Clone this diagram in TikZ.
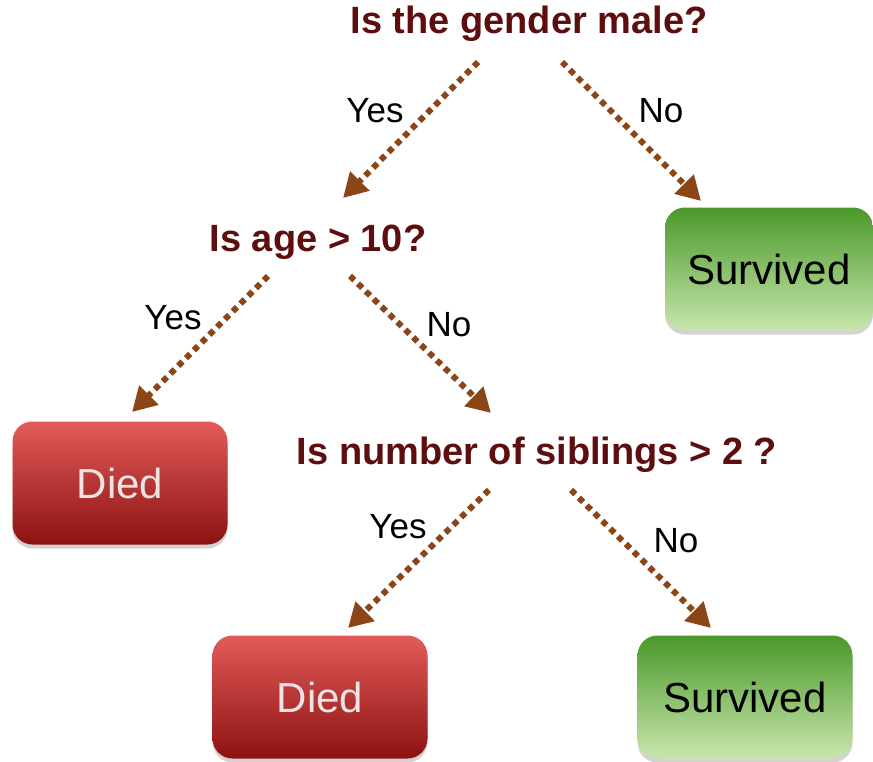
\documentclass[tikz,border=0pt]{standalone}
\usepackage{fontspec}
\setmainfont{Liberation Sans}
\usetikzlibrary{arrows.meta,shadows}
\definecolor{qtext}{RGB}{94,14,14}
\definecolor{arrowc}{RGB}{139,69,22}
\definecolor{redtop}{RGB}{226,91,89}
\definecolor{redbot}{RGB}{140,18,18}
\definecolor{greentop}{RGB}{74,152,42}
\definecolor{greenbot}{RGB}{201,230,173}
\definecolor{diedtext}{RGB}{236,228,228}
\tikzset{
  question/.style={font=\fontsize{38}{40}\selectfont\bfseries, text=qtext, inner sep=0pt},
  answer/.style={font=\fontsize{35}{37}\selectfont, text=black, inner sep=0pt},
  leafbox/.style={rounded corners=20pt, minimum width=215pt, minimum height=123pt,
    font=\fontsize{42}{44}\selectfont, drop shadow={shadow xshift=0pt, shadow yshift=-4pt, opacity=0.35}},
  diedbox/.style={leafbox, top color=redtop, bottom color=redbot, text=diedtext},
  survbox/.style={leafbox, top color=greentop, bottom color=greenbot, text=black},
  dotarrow/.style={draw=arrowc, line width=6pt, dash pattern=on 6pt off 5pt,
    -{Triangle[length=24pt,width=26pt,fill=arrowc]}},
}
\begin{document}
\begin{tikzpicture}[x=1pt,y=-1pt]
\useasboundingbox (0,0) rectangle (873,761);
% questions
\node[question] (q1) at (529,24) {Is the gender male?};
\node[question] (q2) at (318,242) {Is age > 10?};
\node[question] (q3) at (537,455) {Is number of siblings > 2 ?};
% leaves
\node[survbox, minimum width=208pt] (s1) at (769,269) {Survived};
\node[diedbox] (d1) at (120,483) {Died};
\node[diedbox] (d2) at (320,697) {Died};
\node[survbox] (s2) at (745,697) {Survived};
% arrow end points
\coordinate (a1s) at (478,62);  \coordinate (a1e) at (343,198);
\coordinate (a2s) at (562,62);  \coordinate (a2e) at (701,201);
\coordinate (b1s) at (268,276); \coordinate (b1e) at (132,412);
\coordinate (b2s) at (350,276); \coordinate (b2e) at (491,413);
\coordinate (c1s) at (489,490); \coordinate (c1e) at (348,628);
\coordinate (c2s) at (571,490); \coordinate (c2e) at (711,628);
\draw[dotarrow] (a1s) -- (a1e);
\draw[dotarrow] (a2s) -- (a2e);
\draw[dotarrow] (b1s) -- (b1e);
\draw[dotarrow] (b2s) -- (b2e);
\draw[dotarrow] (c1s) -- (c1e);
\draw[dotarrow] (c2s) -- (c2e);
% labels
\node[answer] (l1) at (375,111) {Yes};
\node[answer] (l2) at (661,111) {No};
\node[answer] (l3) at (173,318) {Yes};
\node[answer] (l4) at (449,325) {No};
\node[answer] (l5) at (398,527) {Yes};
\node[answer] (l6) at (676,541) {No};
\end{tikzpicture}
\end{document}
